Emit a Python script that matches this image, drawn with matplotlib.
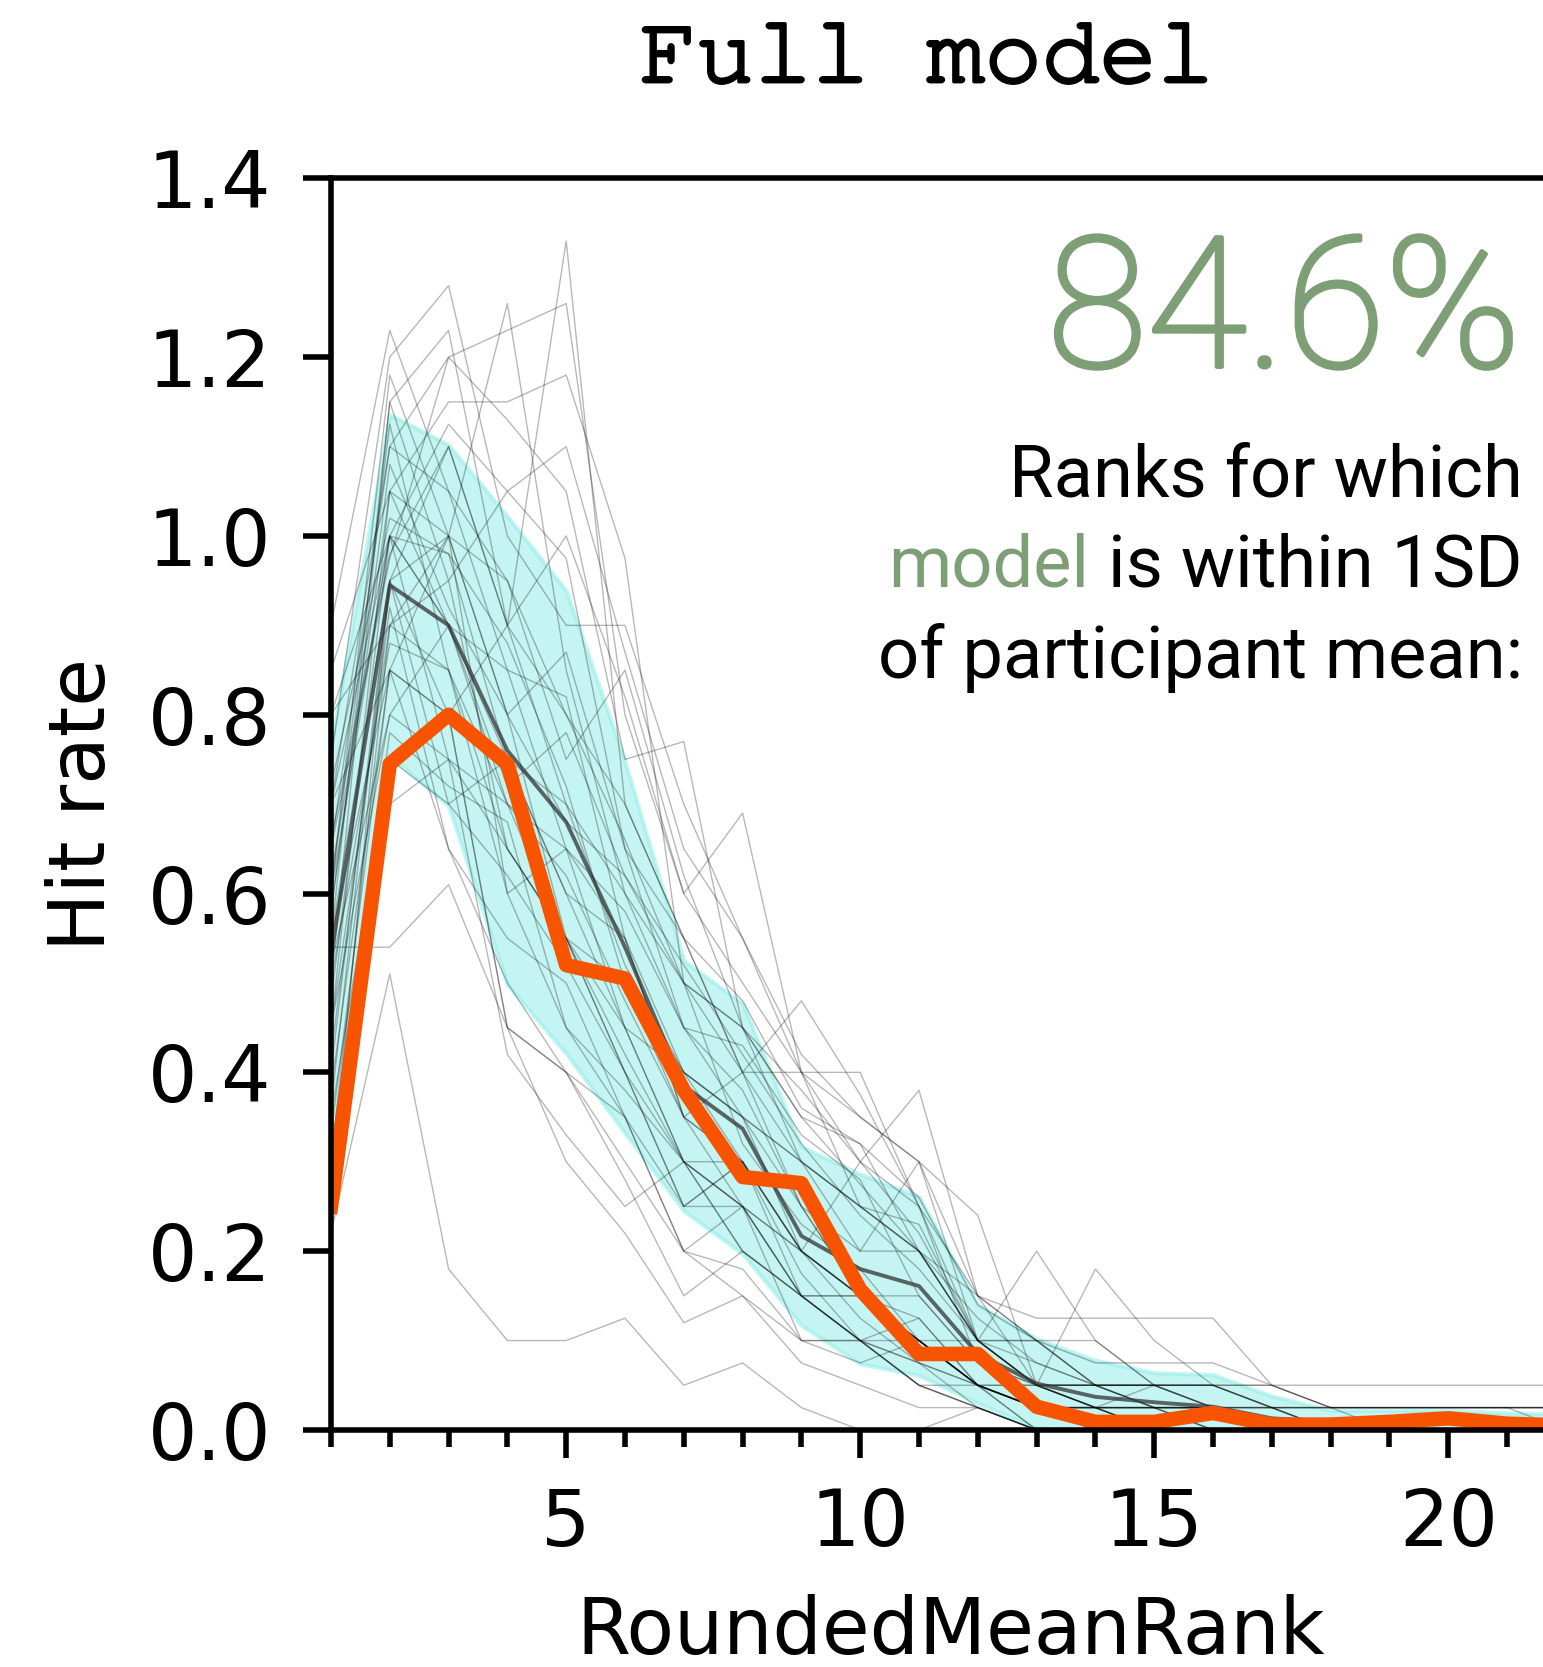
import numpy as np
import matplotlib.pyplot as plt
import matplotlib.patheffects as pe
from matplotlib.ticker import MultipleLocator

# ranks 1..22 (the picture is cut off a little after 21)
ranks = np.arange(1, 23)

model_hit_rate = [0.25, 0.745, 0.80, 0.745, 0.52, 0.505, 0.38, 0.283, 0.276, 0.157, 0.085,
                  0.085, 0.026, 0.009, 0.009, 0.019, 0.006, 0.006, 0.009, 0.013, 0.007, 0.005]

participant_mean = [0.53, 0.945, 0.90, 0.76, 0.68, 0.54, 0.385, 0.337, 0.217, 0.18, 0.161,
                    0.085, 0.052, 0.037, 0.031, 0.026, 0.013, 0.009, 0.009, 0.009, 0.009, 0.008]
participant_sd = [0.235, 0.191, 0.202, 0.262, 0.259, 0.208, 0.14, 0.14, 0.10, 0.106, 0.10,
                  0.055, 0.05, 0.041, 0.033, 0.036, 0.025, 0.013, 0.013, 0.013, 0.010, 0.010]

participants = [
    [0.22, 0.51, 0.18, 0.10, 0.10, 0.125, 0.05, 0.075, 0.025, 0.0, 0.0, 0.025, 0, 0, 0, 0, 0, 0, 0, 0, 0, 0],
    [0.54, 0.54, 0.61, 0.45, 0.40, 0.28, 0.15, 0.20, 0.15, 0.10, 0.075, 0.025, 0, 0, 0, 0, 0, 0, 0, 0, 0, 0],
    [0.90, 1.23, 1.05, 0.95, 0.75, 0.85, 0.62, 0.45, 0.38, 0.30, 0.22, 0.10, 0.05, 0.05, 0.025, 0, 0, 0, 0, 0, 0, 0],
    [0.75, 1.20, 1.28, 1.00, 0.90, 0.90, 0.70, 0.55, 0.40, 0.35, 0.30, 0.15, 0.05, 0.025, 0.05, 0.025, 0, 0, 0, 0, 0, 0],
    [0.60, 1.18, 1.00, 1.26, 0.85, 0.60, 0.50, 0.45, 0.30, 0.25, 0.20, 0.10, 0.075, 0.05, 0.025, 0.025, 0.025, 0, 0, 0, 0, 0],
    [0.50, 1.15, 1.23, 0.90, 1.33, 0.70, 0.55, 0.40, 0.48, 0.375, 0.25, 0.10, 0.10, 0.075, 0.075, 0.075, 0.05, 0.025, 0.025, 0.025, 0.025, 0.025],
    [0.70, 1.10, 1.20, 1.23, 1.26, 0.80, 0.60, 0.50, 0.40, 0.30, 0.38, 0.15, 0.10, 0.05, 0.05, 0.025, 0.025, 0.025, 0, 0, 0, 0],
    [0.45, 1.05, 1.15, 1.15, 1.18, 0.975, 0.50, 0.45, 0.35, 0.275, 0.20, 0.125, 0.075, 0.05, 0.025, 0.025, 0, 0, 0, 0, 0, 0],
    [0.80, 1.00, 1.125, 1.05, 1.10, 0.87, 0.65, 0.55, 0.42, 0.35, 0.30, 0.10, 0.05, 0.05, 0.025, 0.025, 0, 0, 0, 0, 0, 0],
    [0.65, 0.975, 1.20, 1.13, 1.05, 0.75, 0.77, 0.45, 0.35, 0.32, 0.20, 0.15, 0.10, 0.10, 0.05, 0.05, 0.025, 0, 0, 0, 0, 0],
    [0.40, 0.95, 1.10, 0.90, 1.00, 0.82, 0.60, 0.69, 0.40, 0.40, 0.25, 0.15, 0.125, 0.125, 0.125, 0.125, 0.05, 0.025, 0.025, 0.025, 0.025, 0.025],
    [0.55, 1.15, 0.95, 1.05, 0.975, 0.65, 0.55, 0.40, 0.40, 0.25, 0.20, 0.10, 0.20, 0.10, 0.05, 0.05, 0.025, 0.025, 0.025, 0.025, 0.025, 0.025],
    [0.30, 0.90, 1.00, 0.80, 0.87, 0.65, 0.45, 0.38, 0.25, 0.20, 0.30, 0.24, 0.05, 0.025, 0.025, 0, 0, 0, 0, 0, 0, 0],
    [0.85, 1.05, 0.90, 0.85, 0.82, 0.55, 0.35, 0.40, 0.25, 0.15, 0.10, 0.05, 0.05, 0.18, 0.10, 0.05, 0.025, 0, 0, 0, 0, 0],
    [0.62, 1.00, 0.98, 0.75, 0.60, 0.45, 0.40, 0.30, 0.20, 0.15, 0.125, 0.05, 0.025, 0, 0, 0, 0, 0, 0, 0, 0, 0],
    [0.38, 0.85, 0.80, 0.90, 0.70, 0.60, 0.45, 0.35, 0.30, 0.25, 0.20, 0.10, 0.05, 0.05, 0.05, 0.05, 0.05, 0.05, 0.05, 0.05, 0.05, 0.05],
    [0.70, 1.00, 0.75, 0.65, 0.55, 0.50, 0.35, 0.25, 0.20, 0.125, 0.075, 0.05, 0.025, 0.025, 0, 0, 0, 0, 0, 0, 0, 0],
    [0.52, 0.80, 0.90, 0.70, 0.65, 0.45, 0.30, 0.30, 0.175, 0.10, 0.125, 0.05, 0.025, 0, 0, 0, 0, 0, 0, 0, 0, 0],
    [0.27, 0.95, 1.00, 0.60, 0.45, 0.35, 0.20, 0.25, 0.20, 0.15, 0.10, 0.05, 0.025, 0.025, 0, 0, 0, 0, 0, 0, 0, 0],
    [0.60, 1.125, 0.85, 0.70, 0.55, 0.40, 0.25, 0.25, 0.15, 0.15, 0.10, 0.05, 0, 0, 0, 0, 0, 0, 0, 0, 0, 0],
    [0.45, 0.90, 0.85, 0.60, 0.65, 0.58, 0.45, 0.43, 0.33, 0.28, 0.15, 0.075, 0.05, 0.05, 0.05, 0.025, 0, 0, 0, 0, 0, 0],
    [0.35, 0.75, 0.70, 0.75, 0.60, 0.55, 0.40, 0.35, 0.30, 0.20, 0.20, 0.10, 0.05, 0.025, 0.025, 0.025, 0.025, 0.025, 0.025, 0.025, 0.025, 0.025],
    [0.58, 1.05, 1.00, 0.80, 0.68, 0.62, 0.50, 0.32, 0.23, 0.18, 0.10, 0.05, 0.025, 0, 0, 0, 0, 0, 0, 0, 0, 0],
    [0.80, 0.90, 0.95, 0.65, 0.55, 0.40, 0.30, 0.25, 0.10, 0.075, 0.10, 0.05, 0.025, 0.025, 0, 0, 0, 0, 0, 0, 0, 0],
    [0.33, 0.85, 0.80, 0.45, 0.30, 0.22, 0.12, 0.15, 0.075, 0.05, 0.025, 0.025, 0, 0, 0, 0, 0, 0, 0, 0, 0, 0],
    [0.48, 1.00, 0.90, 0.72, 0.78, 0.62, 0.52, 0.42, 0.32, 0.24, 0.18, 0.10, 0.05, 0.05, 0.05, 0.025, 0.025, 0, 0, 0, 0, 0],
    [0.65, 1.10, 1.05, 0.85, 0.65, 0.55, 0.35, 0.30, 0.20, 0.15, 0.10, 0.10, 0.05, 0.025, 0.025, 0, 0, 0, 0, 0, 0, 0],
    [0.25, 0.70, 0.75, 0.42, 0.33, 0.25, 0.30, 0.20, 0.15, 0.10, 0.10, 0.05, 0.025, 0.025, 0, 0, 0, 0, 0, 0, 0, 0],
    [0.55, 0.95, 0.80, 0.45, 0.40, 0.35, 0.25, 0.30, 0.15, 0.10, 0.075, 0.05, 0.025, 0, 0, 0, 0, 0, 0, 0, 0, 0],
    [0.70, 0.85, 1.00, 0.95, 0.80, 0.70, 0.55, 0.48, 0.36, 0.32, 0.26, 0.14, 0.10, 0.05, 0.05, 0.05, 0.025, 0.025, 0.025, 0.025, 0.025, 0],
    [0.42, 0.92, 0.65, 0.55, 0.50, 0.35, 0.20, 0.15, 0.10, 0.10, 0.05, 0.025, 0, 0, 0, 0, 0, 0, 0, 0, 0, 0],
    [0.60, 1.00, 0.90, 0.75, 0.70, 0.52, 0.40, 0.35, 0.20, 0.30, 0.25, 0.075, 0.05, 0.025, 0.025, 0.025, 0, 0, 0, 0, 0, 0],
    [0.50, 0.88, 0.85, 0.65, 0.55, 0.45, 0.30, 0.25, 0.15, 0.15, 0.10, 0.05, 0.025, 0.025, 0.025, 0.025, 0, 0, 0, 0, 0, 0],
    [0.31, 0.78, 0.72, 0.68, 0.45, 0.38, 0.30, 0.25, 0.15, 0.10, 0.05, 0.025, 0, 0, 0, 0, 0, 0, 0, 0, 0, 0],
    [0.66, 0.98, 1.10, 0.90, 0.80, 0.66, 0.50, 0.40, 0.30, 0.25, 0.23, 0.10, 0.10, 0.05, 0.05, 0.05, 0.05, 0.025, 0.025, 0.025, 0.025, 0.025],
    [0.45, 0.80, 0.75, 0.70, 0.62, 0.48, 0.35, 0.30, 0.20, 0.15, 0.10, 0.05, 0.05, 0.025, 0, 0, 0, 0, 0, 0, 0, 0],
    [0.58, 1.08, 0.92, 0.80, 0.55, 0.42, 0.30, 0.20, 0.15, 0.10, 0.05, 0.025, 0, 0, 0, 0, 0, 0, 0, 0, 0, 0],
    [0.36, 0.95, 0.70, 0.62, 0.52, 0.40, 0.25, 0.30, 0.20, 0.15, 0.10, 0.05, 0.025, 0, 0, 0, 0, 0, 0, 0, 0, 0],
    [0.72, 1.02, 0.98, 0.88, 0.72, 0.50, 0.40, 0.35, 0.25, 0.15, 0.15, 0.075, 0.025, 0.025, 0.025, 0.025, 0, 0, 0, 0, 0, 0],
    [0.55, 0.85, 0.65, 0.50, 0.40, 0.30, 0.20, 0.18, 0.10, 0.10, 0.05, 0.05, 0, 0, 0, 0, 0, 0, 0, 0, 0, 0],
]

score_text = "84.6%"
GREEN = "#7e9e76"
ORANGE = "#f85400"

fig = plt.figure(figsize=(15.43, 16.67), dpi=100)
# axes runs past the right edge, the original is cropped there
ax = fig.add_axes([0.2145, 0.1422, 0.8765, 0.7508])

for p in participants:
    ax.plot(ranks, p, color="k", alpha=0.28, lw=1.0)

mean = np.array(participant_mean)
sd = np.array(participant_sd)
ax.fill_between(ranks, mean - sd, mean + sd, color="#8dede7", alpha=0.5, lw=3)
ax.plot(ranks, mean, color="#333333", alpha=0.75, lw=2.8)
ax.plot(ranks, model_hit_rate, color=ORANGE, lw=10.5)

ax.set_xlim(1, 24)
ax.set_ylim(0, 1.4)
ax.xaxis.set_major_locator(MultipleLocator(5))
ax.xaxis.set_minor_locator(MultipleLocator(1))
ax.yaxis.set_major_locator(MultipleLocator(0.2))

for s in ax.spines.values():
    s.set_linewidth(4)
ax.tick_params(which="major", length=20, width=4, labelsize=56)
ax.tick_params(axis="x", which="minor", length=12, width=4)
ax.tick_params(axis="x", pad=20)
ax.tick_params(axis="y", pad=23)

ax.set_xlabel("RoundedMeanRank", fontsize=56)
ax.xaxis.set_label_coords(0.4584, -0.131)
ax.set_ylabel("Hit rate", fontsize=56)
ax.yaxis.set_label_coords(-0.1553, 0.5)

# regular courier is too thin, thicken it a bit with a stroke
mono = ["Courier New", "Courier", "Nimbus Mono PS", "FreeMono", "Liberation Mono"]
fig.text(0.6008, 0.951, "Full model", family=mono, size=69,
         ha="center", va="baseline",
         path_effects=[pe.withStroke(linewidth=2.5, foreground="k")])

sans = ["Roboto", "DejaVu Sans"]
fig.text(0.9857, 0.78, score_text, family=sans, weight="light", size=131,
         color=GREEN, ha="right", va="baseline",
         path_effects=[pe.withStroke(linewidth=3.2, foreground=GREEN)])
fig.text(0.987, 0.702, "Ranks for which", family=sans, size=52,
         ha="right", va="baseline")
t2 = fig.text(0.987, 0.648, "is within 1SD", family=sans, size=52,
              ha="right", va="baseline")
fig.text(0.987, 0.5933, "of participant mean:", family=sans, size=52,
         ha="right", va="baseline")
ax.annotate("model", xy=(0, 0), xycoords=t2, xytext=(-14, 0),
            textcoords="offset points", family=sans, size=52, color=GREEN,
            ha="right", va="bottom", annotation_clip=False)

fig.savefig("out.png", dpi=100)
